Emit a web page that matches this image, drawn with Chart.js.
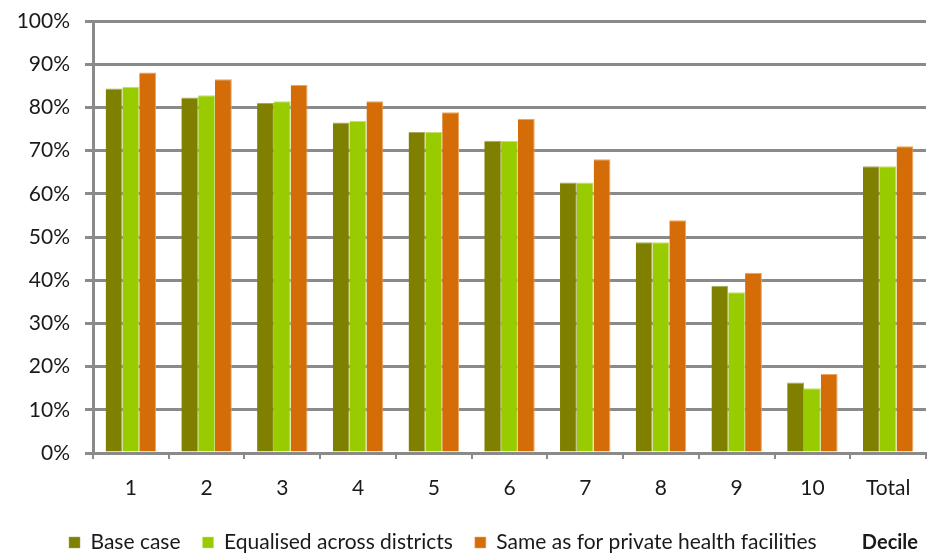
<!DOCTYPE html>
<html>
<head>
<meta charset="utf-8">
<script src="https://cdn.jsdelivr.net/npm/chart.js@4.4.1/dist/chart.umd.min.js"></script>
<style>
  html, body { margin: 0; padding: 0; background: #ffffff; }
  #wrap { width: 933px; height: 553px; position: relative; }
</style>
</head>
<body>
<div id="wrap"><canvas id="chart" width="933" height="553"></canvas></div>
<script>
// Decile groups along the x axis
const deciles = ['1', '2', '3', '4', '5', '6', '7', '8', '9', '10', 'Total'];

// Share (%) for each scenario
const baseCase = [84.4, 82.3, 81.0, 76.5, 74.3, 72.3, 62.6, 48.8, 38.7, 16.3, 66.4];
const equalisedDistricts = [84.8, 82.8, 81.4, 76.9, 74.3, 72.3, 62.6, 48.8, 37.2, 15.0, 66.4];
const privateFacilities = [88.1, 86.5, 85.2, 81.4, 78.9, 77.3, 68.0, 53.9, 41.7, 18.3, 71.0];

const seriesNames = ['Base case', 'Equalised across districts', 'Same as for private health facilities'];
const yTicks = [0, 10, 20, 30, 40, 50, 60, 70, 80, 90, 100];
const xAxisTitle = 'Decile';

const FONT = 'Lato, "Open Sans", "DejaVu Sans", sans-serif';
const GRID = '#8a8a8a';
const LEGEND_LEFT = 47;

// Legend row is indented to line up under the axis labels
const legendIndentPlugin = {
  id: 'legendIndent',
  beforeDraw(chart) {
    if (chart.legend) chart.legend.left = LEGEND_LEFT;
  }
};

// Axis title sitting on the legend row, at the right
const axisTitlePlugin = {
  id: 'axisTitleRight',
  afterDraw(chart) {
    const ctx = chart.ctx;
    ctx.save();
    ctx.font = 'bold 20px ' + FONT;
    ctx.fillStyle = '#1a1a1a';
    ctx.textAlign = 'right';
    ctx.textBaseline = 'middle';
    ctx.fillText(xAxisTitle, 918, 543);
    ctx.restore();
  }
};

const barStyle = (fill, edge) => ({
  backgroundColor: fill,
  borderColor: edge,
  borderWidth: { top: 1, right: 1, left: 0, bottom: 0 },
  borderSkipped: 'bottom',
  categoryPercentage: 0.666,
  barPercentage: 1.0
});

new Chart(document.getElementById('chart'), {
  type: 'bar',
  data: {
    labels: deciles,
    datasets: [
      Object.assign({ label: seriesNames[0], data: baseCase }, barStyle('#808000', '#a8a860')),
      Object.assign({ label: seriesNames[1], data: equalisedDistricts }, barStyle('#99cc00', '#c4e070')),
      Object.assign({ label: seriesNames[2], data: privateFacilities }, barStyle('#d46d08', '#eaa660'))
    ]
  },
  options: {
    responsive: false,
    animation: false,
    devicePixelRatio: 1,
    layout: { padding: { left: 0, right: 7, top: 21, bottom: -10 } },
    plugins: {
      legend: {
        position: 'bottom',
        align: 'start',
        labels: {
          boxWidth: 11,
          boxHeight: 11,
          padding: 22,
          color: '#1a1a1a',
          font: { family: FONT, size: 21 }
        }
      },
      tooltip: { enabled: false }
    },
    scales: {
      x: {
        afterFit(scale) { scale.height = 57; },
        grid: {
          offset: true,
          drawOnChartArea: false,
          drawTicks: true,
          tickLength: 6,
          color: GRID,
          lineWidth: 2
        },
        border: { display: true, color: GRID, width: 3 },
        ticks: {
          color: '#1a1a1a',
          padding: 17,
          font: { family: FONT, size: 21 }
        }
      },
      y: {
        min: 0,
        max: 100,
        afterFit(scale) {
          scale.width = 93;
          scale.paddingTop = 0;
          scale.paddingBottom = 0;
        },
        afterBuildTicks(scale) { scale.ticks = yTicks.map(v => ({ value: v })); },
        grid: {
          color: GRID,
          lineWidth: 3,
          drawTicks: true,
          tickLength: 8
        },
        border: { display: true, color: GRID, width: 3 },
        ticks: {
          color: '#1a1a1a',
          padding: 15,
          font: { family: FONT, size: 21 },
          callback: v => v + '%'
        }
      }
    }
  },
  plugins: [legendIndentPlugin, axisTitlePlugin]
});
</script>
</body>
</html>
